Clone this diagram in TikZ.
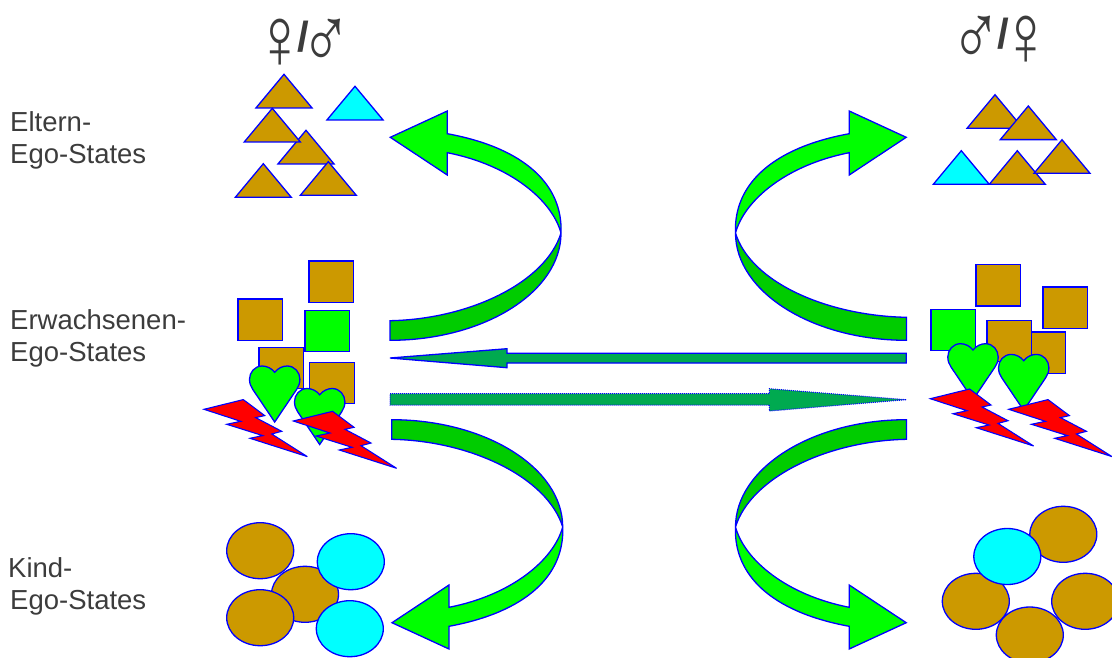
\documentclass[tikz,border=0pt]{standalone}
\usepackage{fontspec}
\usepackage{graphicx}
\setmainfont{Liberation Sans}
\definecolor{brownfill}{HTML}{CC9900}
\definecolor{lightgreen}{HTML}{00FF00}
\definecolor{darkgreen}{HTML}{00CC00}
\definecolor{seagreen}{HTML}{00AA50}
\definecolor{labelgrey}{HTML}{3C3C3C}
\definecolor{edgeblue}{HTML}{0000FF}
\definecolor{cyanfill}{HTML}{00FFFF}
\definecolor{redfill}{HTML}{FF0000}
\tikzset{
  shape edge/.style={draw=edgeblue,line width=1.3pt,line join=miter,miter limit=4},
  brownshape/.style={shape edge,fill=brownfill},
  cyanshape/.style={shape edge,fill=cyanfill},
  greenshape/.style={shape edge,fill=lightgreen},
  darkshape/.style={shape edge,fill=darkgreen},
  redshape/.style={shape edge,fill=redfill,line width=1.1pt},
  seashape/.style={shape edge,fill=seagreen},
  dottedshape/.style={draw=edgeblue,line width=1pt,dash pattern=on 1pt off 1pt,fill=seagreen},
  statelabel/.style={align=left,anchor=north west,inner sep=0pt,text=labelgrey,font=\fontsize{27.5}{32}\selectfont},
  genderlabel/.style={anchor=base,inner sep=0pt,text=labelgrey,font=\fontsize{72}{72}\selectfont}
}
\newcommand{\gslash}{\kern-8.5pt\raisebox{17pt}{\fontsize{42}{42}\selectfont\bfseries /}\kern-8.5pt}
\newcommand{\gsign}[1]{\scalebox{.95}[1.22]{#1}}
\newcommand{\tri}[3]{\draw[#3] (#1,#2) -- ++(28,33.6) -- ++(-56,0) -- cycle;}
\newcommand{\sqr}[3]{\draw[#3] (#1,#2) rectangle ++(44.7,41.3);}
\newcommand{\ovl}[3]{\draw[#3] (#1,#2) ellipse [x radius=33.5,y radius=28];}
\newcommand{\hrt}[2]{\draw[greenshape,shift={(#1,#2)}] (0,0)
  .. controls (3,-4) and (8,-6.3) .. (12.5,-6.3)
  .. controls (20,-6.3) and (25.2,0) .. (25.2,7)
  .. controls (25.2,11) and (24,14) .. (22,17)
  -- (0,49.7) -- (-22,17)
  .. controls (-24,14) and (-25.2,11) .. (-25.2,7)
  .. controls (-25.2,0) and (-20,-6.3) .. (-12.5,-6.3)
  .. controls (-8,-6.3) and (-3,-4) .. (0,0) -- cycle;}
\newcommand{\bolt}[2]{\draw[redshape,shift={(#1,#2)}] (0,0) -- (39.3,-9.7) -- (60.7,6.3) -- (51.7,8.3) -- (77.7,22) -- (67.7,24.7) -- (103.3,47.3) -- (46,29) -- (58.7,26.3) -- (22.7,15) -- (36.7,12) -- cycle;}
\newcommand{\curved}[4]{\begin{scope}[#1]
  \draw[shape edge,fill=#3] (390,#2) .. controls (470,#2-1.5) and (546,282) .. (561,233)
     .. controls (561,292) and (484,340.3) .. (390,340.3) -- cycle;
  \draw[shape edge,fill=#4] (561,233) .. controls (563,185) and (525,148) .. (447.3,133.7)
     -- (447.3,111) -- (390.3,137.3) -- (447.3,175) -- (447.3,152.7)
     .. controls (510,165) and (552,200) .. (561,233) -- cycle;
\end{scope}}
\begin{document}
\begin{tikzpicture}[x=1pt,y=-1pt]
\useasboundingbox (0,0) rectangle (1112,657);
\clip (0,0) rectangle (1112,657);

\node[genderlabel] (gl) at (303.5,68) {\gsign{♀}\gslash\gsign{♂}};
\node[genderlabel] (gr) at (1001,65) {\gsign{♂}\kern4pt\gslash\gsign{♀}};

\node[statelabel] (eltern) at (10,111) {Eltern-\\Ego-States};
\node[statelabel] (erw) at (10,309) {Erwachsenen-\\Ego-States};
\node[statelabel] (kind) at (8,557) {Kind-\\\hspace{2pt}Ego-States};

\tri{284}{74.3}{brownshape}
\tri{306}{130.3}{brownshape}
\tri{272.3}{108.3}{brownshape}
\tri{263.3}{163.7}{brownshape}
\tri{328.3}{161.7}{brownshape}
\tri{355}{86.3}{cyanshape}
\tri{995}{94.7}{brownshape}
\tri{1028.3}{106}{brownshape}
\tri{961.3}{150.7}{cyanshape}
\tri{1017.3}{150.7}{brownshape}
\tri{1062}{139.7}{brownshape}

\sqr{309}{261}{brownshape}
\sqr{238}{299}{brownshape}
\sqr{259}{347.3}{brownshape}
\sqr{305}{310.3}{greenshape}
\sqr{309.7}{362.3}{brownshape}
\hrt{274.7}{372.3}
\hrt{319.7}{394.8}
\bolt{204}{409.3}
\bolt{293.3}{421}
\sqr{976}{264.7}{brownshape}
\sqr{1043}{287}{brownshape}
\sqr{1020.7}{332}{brownshape}
\sqr{987}{320.3}{brownshape}
\sqr{931}{309.3}{greenshape}
\hrt{973}{350}
\hrt{1023.7}{360.7}
\bolt{930.3}{398.7}
\bolt{1008.7}{409.3}

\ovl{305}{594.3}{brownshape}
\ovl{260.2}{550.7}{brownshape}
\ovl{350.8}{561.7}{cyanshape}
\ovl{260.2}{617.7}{brownshape}
\ovl{349.8}{628.7}{cyanshape}
\ovl{1063.3}{534.3}{brownshape}
\ovl{975.8}{601.3}{brownshape}
\ovl{1007.3}{556.5}{cyanshape}
\ovl{1085.2}{601.3}{brownshape}
\ovl{1029.8}{635}{brownshape}

\curved{}{320.7}{darkgreen}{lightgreen}
\curved{shift={(1296.5,0)},xscale=-1}{317.3}{darkgreen}{lightgreen}
\curved{shift={(1.7,760)},yscale=-1}{320.7}{darkgreen}{lightgreen}
\curved{shift={(1296.5,760)},xscale=-1,yscale=-1}{320.7}{darkgreen}{lightgreen}

\draw[seashape] (390,358) -- (507,348.7) -- (507,353.3) -- (906.3,353.3) -- (906.3,363) -- (507,363) -- (507,367.7) -- cycle;
\draw[dottedshape] (390,393.7) -- (769.3,393.7) -- (769.3,388.7) -- (906.3,399.7) -- (769.3,411) -- (769.3,405) -- (390,405) -- cycle;
\end{tikzpicture}
\end{document}
